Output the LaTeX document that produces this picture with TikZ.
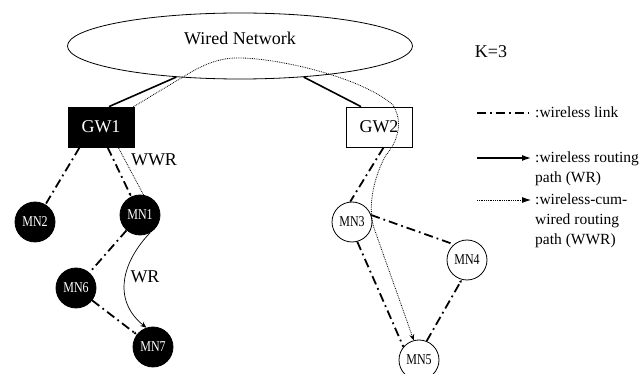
\documentclass[tikz,border=0pt]{standalone}
\usepackage{fontspec}
\setmainfont{Liberation Serif}
\usetikzlibrary{shapes,arrows.meta}
\newcommand{\Narrow}[1]{\scalebox{0.8}[1]{#1}}
\tikzset{
	gwfill/.style={rectangle, draw, line width=0.8pt, fill=black, text=white, minimum width=66pt, minimum height=40pt, font=\fontsize{18}{18}\selectfont},
	gwopen/.style={rectangle, draw, line width=0.8pt, fill=white, minimum width=66pt, minimum height=40pt, font=\fontsize{18}{18}\selectfont},
	mnfill/.style={circle, draw, line width=0.8pt, fill=black, text=white, minimum size=40pt, inner sep=0pt, font=\fontsize{15}{15}\selectfont},
	mnopen/.style={circle, draw, line width=0.8pt, fill=white, minimum size=40pt, inner sep=0pt, font=\fontsize{15}{15}\selectfont},
	wlink/.style={line width=1.8pt, dash pattern=on 9pt off 4pt on 1.8pt off 4pt},
	wlinkarr/.style={wlink, -{Latex[length=3pt,width=3pt]}},
	wirelink/.style={line width=1.6pt},
	wrpath/.style={line width=0.7pt, -{Stealth[length=6pt,width=5pt]}},
	wwrpath/.style={line width=0.8pt, densely dotted, -{Stealth[length=6pt,width=5pt]}},
	lbl/.style={font=\fontsize{18}{18}\selectfont},
	legtext/.style={font=\fontsize{15.5}{20}\selectfont, align=left, anchor=north west, inner sep=0pt}
}

\begin{document}
\begin{tikzpicture}[x=1pt,y=-1pt]
	  \useasboundingbox (0,0) rectangle (641,374);
	  % Define nodes
	  \node[ellipse, draw, line width=0.8pt, minimum width=345pt, minimum height=66pt,
	        label={[lbl, yshift=8pt]center:Wired Network}] (wired) at (240,46) {};
	  \node[lbl] (K) at (491,52) {K=3};
	  \node[gwfill] (GW1) at (101,127) {GW1};
	  \node[gwopen] (GW2) at (379,127) {GW2};
	  \node[mnfill] (MN2) at (35,222)  {\Narrow{MN2}};
	  \node[mnfill] (MN1) at (140,215) {\Narrow{MN1}};
	  \node[mnfill] (MN6) at (76,288)  {\Narrow{MN6}};
	  \node[mnfill] (MN7) at (153,347) {\Narrow{MN7}};
	  \node[mnopen] (MN3) at (352,222) {\Narrow{MN3}};
	  \node[mnopen] (MN4) at (467,260) {\Narrow{MN4}};
	  \node[mnopen] (MN5) at (419,360) {\Narrow{MN5}};
	  \node[lbl] (WWRlbl) at (154,160) {WWR};
	  \node[lbl] (WRlbl) at (145,277) {WR};

	  % Connect the nodes
	  \draw[wirelink] (wired.206) -- ([xshift=8pt]GW1.north);
	  \draw[wirelink] (wired.334) -- ([xshift=-18pt]GW2.north);
	  \draw[wlink] ([xshift=12pt]GW1.south west) -- (MN2);
	  \draw[wlinkarr] ([xshift=40pt]GW1.south west) -- (MN1);
	  \draw[wlink] (MN1) -- (MN6);
	  \draw[wlinkarr] (MN6) -- (MN7);
	  \draw[wlink] ([xshift=38pt]GW2.south west) -- (MN3.95);
	  \draw[wlink] (MN3.20) -- (MN4.130);
	  \draw[wlink] (MN3.-75) -- (MN5.140);
	  \draw[wlinkarr] (MN5.68) -- (MN4.-105);

	  % Routing paths
	  \draw[wrpath] (MN1.-60) .. controls (122,262) and (112,300) .. (MN7.109);
	  \draw[wwrpath] (MN1.80) -- (118,147) -- (133,107) -- (183,77)
	        .. controls (205,63) and (222,57) .. (243,58)
	        .. controls (290,60) and (365,80) .. (393,105)
	        .. controls (405,125) and (395,145) .. (386,155)
	        .. controls (372,180) and (368,210) .. (374,228) -- (MN5.105);

	  % Legend
	  \node[legtext] (leglink) at (535,107) {:wireless link};
	  \node[legtext] (legwr) at (535,152) {:wireless routing\\path (WR)};
	  \node[legtext] (legwwr) at (535,194) {:wireless-cum-\\wired routing\\path (WWR)};
	  \coordinate (l1a) at (477,113); \coordinate (l1b) at (531,113);
	  \coordinate (l2a) at (477,158); \coordinate (l2b) at (531,158);
	  \coordinate (l3a) at (477,200); \coordinate (l3b) at (531,200);
	  \draw[wlink] (l1a) -- (l1b);
	  \draw[line width=1.2pt, -{Latex[length=9pt,width=6pt]}] (l2a) -- (l2b);
	  \draw[line width=0.8pt, densely dotted, -{Latex[length=9pt,width=6pt]}] (l3a) -- (l3b);
	\end{tikzpicture}
\end{document}
